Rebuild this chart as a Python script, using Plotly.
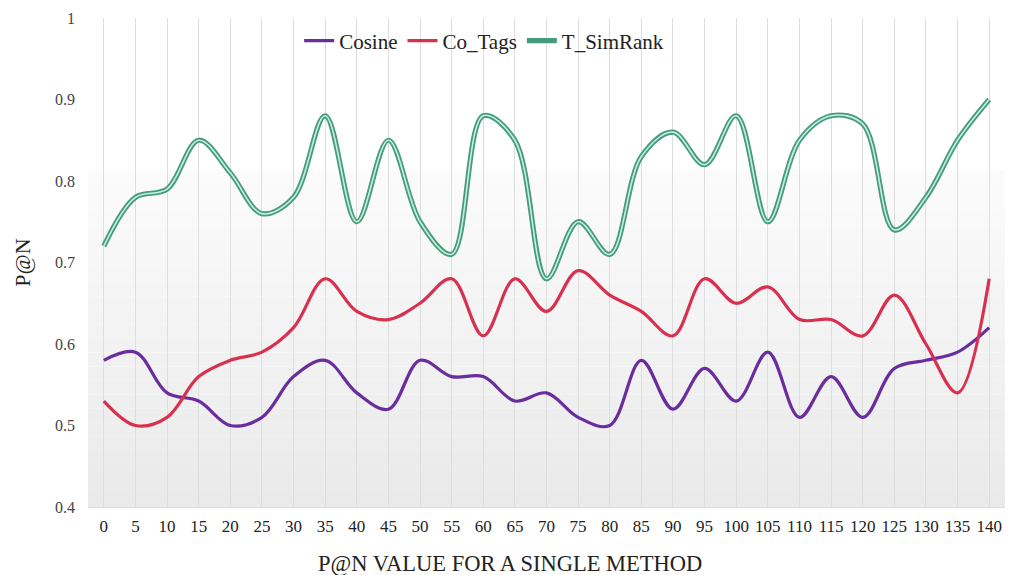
import plotly.graph_objects as go

x_vals = list(range(0, 145, 5))
cosine = [0.58, 0.59, 0.54, 0.53, 0.50, 0.51, 0.56, 0.58, 0.54, 0.52, 0.58, 0.56, 0.56, 0.53, 0.54,
          0.51, 0.50, 0.58, 0.52, 0.57, 0.53, 0.59, 0.51, 0.56, 0.51, 0.57, 0.58, 0.59, 0.62]
co_tags = [0.53, 0.50, 0.51, 0.56, 0.58, 0.59, 0.62, 0.68, 0.64, 0.63, 0.65, 0.68, 0.61, 0.68, 0.64,
           0.69, 0.66, 0.64, 0.61, 0.68, 0.65, 0.67, 0.63, 0.63, 0.61, 0.66, 0.60, 0.54, 0.68]
t_simrank = [0.72, 0.78, 0.79, 0.85, 0.81, 0.76, 0.78, 0.88, 0.75, 0.85, 0.75, 0.71, 0.88, 0.85, 0.68,
             0.75, 0.71, 0.83, 0.86, 0.82, 0.88, 0.75, 0.85, 0.88, 0.87, 0.74, 0.78, 0.85, 0.90]
y_ticks = [0.4, 0.5, 0.6, 0.7, 0.8, 0.9, 1]
y_tick_text = ["0.4", "0.5", "0.6", "0.7", "0.8", "0.9", "1"]

FONT = "Liberation Serif"

fig = go.Figure()

# background gradient bands (white above ~0.8 -> light grey at bottom)
n_bands = 24
g_start_frac = (507 - 170) / (507 - 18)
for i in range(n_bands):
    y0 = g_start_frac * (1 - (i + 1) / n_bands)
    y1 = g_start_frac * (1 - i / n_bands)
    t = (i + 0.5) / n_bands
    c = int(252 - 18 * t)
    fig.add_shape(type="rect", xref="x domain", yref="y domain", x0=0, x1=1, y0=y0, y1=y1,
                  fillcolor=f"rgb({c},{c},{c})", line_width=0, layer="below")

fig.add_trace(go.Scatter(x=x_vals, y=cosine, mode="lines", name="Cosine",
                         line=dict(color="#6a2d9e", width=3.2, shape="spline", smoothing=1)))
fig.add_trace(go.Scatter(x=x_vals, y=co_tags, mode="lines", name="Co_Tags",
                         line=dict(color="#d8304e", width=3.2, shape="spline", smoothing=1)))
fig.add_trace(go.Scatter(x=x_vals, y=t_simrank, mode="lines", name="T_SimRank", legendgroup="ts",
                         line=dict(color="#459c7c", width=5.2, shape="spline", smoothing=1)))
fig.add_trace(go.Scatter(x=x_vals, y=t_simrank, mode="lines", name="T_SimRank", legendgroup="ts",
                         showlegend=False,
                         line=dict(color="#c6eedf", width=1.6, shape="spline", smoothing=1)))

# the page adds an 8px body margin, so the figure is 8px smaller and margins shifted
fig.update_layout(
    width=1006, height=567,
    margin=dict(l=80, r=9, t=10, b=68, autoexpand=False),
    paper_bgcolor="white", plot_bgcolor="white",
    font=dict(family=FONT, color="#222"),
    showlegend=True,
    legend=dict(orientation="h", x=0.432, xanchor="center", y=0.995, yanchor="top",
                font=dict(family=FONT, size=21, color="#222"), bgcolor="rgba(0,0,0,0)",
                traceorder="normal"),
    xaxis=dict(range=[-2.5, 142.5], tickvals=x_vals, ticktext=[str(v) for v in x_vals],
               showgrid=True, gridcolor="#dedede", gridwidth=1.2, zeroline=False,
               showline=True, linecolor="#dcdcdc", linewidth=1,
               tickfont=dict(family=FONT, size=17, color="#222"), ticklabelstandoff=4),
    yaxis=dict(range=[0.4, 1.0], tickvals=y_ticks, ticktext=y_tick_text, showgrid=False,
               zeroline=False, showline=False,
               tickfont=dict(family=FONT, size=16, color="#444"), ticklabelstandoff=12,
               title=dict(text="P@N", font=dict(family=FONT, size=22, color="#222"), standoff=18)),
    annotations=[dict(text="P@N VALUE FOR A SINGLE METHOD", xref="paper", yref="paper",
                      x=0.46, y=-0.085, xanchor="center", yanchor="top", showarrow=False,
                      font=dict(family=FONT, size=22.5, color="#222"))],
)

fig.write_html("out.html")
